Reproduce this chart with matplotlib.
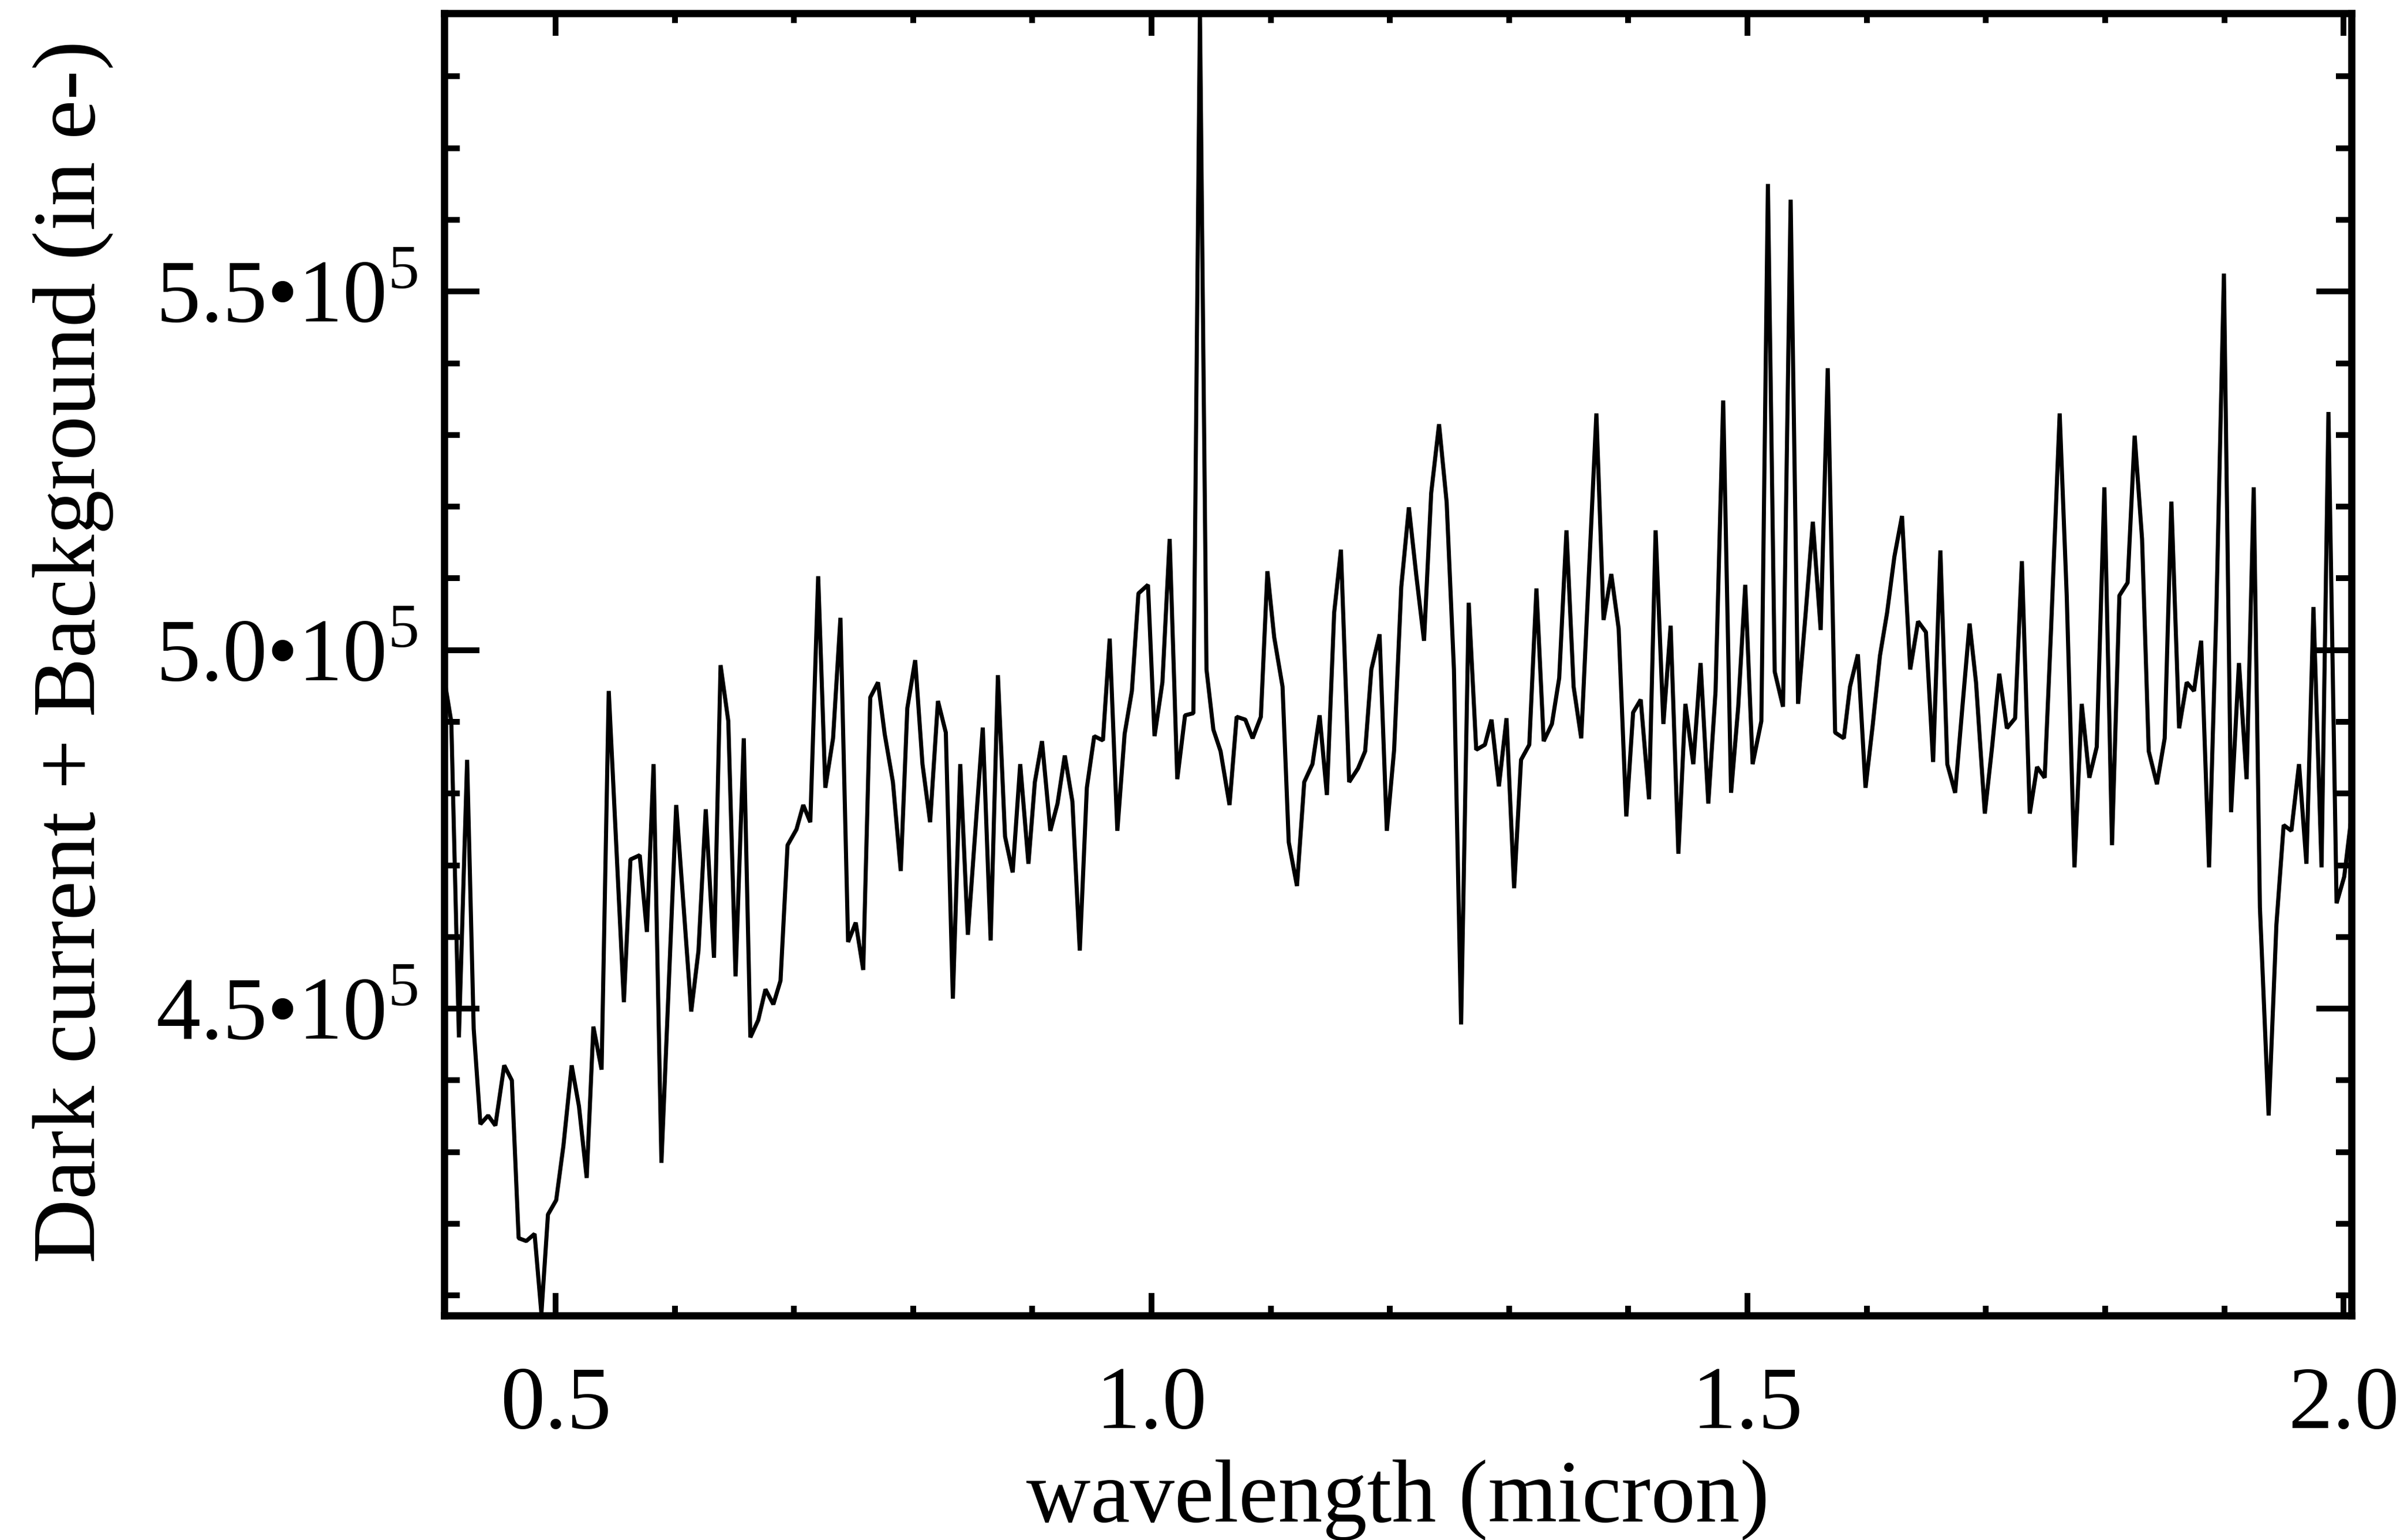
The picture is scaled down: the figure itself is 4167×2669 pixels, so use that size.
import numpy as np
import matplotlib
matplotlib.use('Agg')
import matplotlib.pyplot as plt
from matplotlib.ticker import MultipleLocator, FuncFormatter

plt.rcParams['font.family'] = 'serif'
plt.rcParams['font.serif'] = ['Liberation Serif', 'DejaVu Serif']
plt.rcParams['mathtext.fontset'] = 'custom'
plt.rcParams['mathtext.rm'] = 'Liberation Serif'

# wavelength in micron
wavelength = [
    0.4066, 0.4125, 0.4189, 0.4258, 0.4313, 0.4369, 0.4434, 0.4495, 0.4569, 0.4633,
    0.4690, 0.4754, 0.4824, 0.4881, 0.4936, 0.5005, 0.5066, 0.5135, 0.5196, 0.5261,
    0.5317, 0.5386, 0.5446, 0.5573, 0.5628, 0.5706, 0.5766, 0.5822, 0.5888, 0.6012,
    0.6138, 0.6199, 0.6260, 0.6329, 0.6384,
    0.6449, 0.6510, 0.6579, 0.6634, 0.6700, 0.6761, 0.6827, 0.6887, 0.6946, 0.7021,
    0.7078, 0.7137, 0.7203, 0.7263, 0.7328, 0.7390, 0.7454, 0.7518, 0.7581, 0.7640,
    0.7705, 0.7761, 0.7830, 0.7896, 0.7951, 0.8017, 0.8078, 0.8142, 0.8208, 0.8274,
    0.8333, 0.8395, 0.8459, 0.8584, 0.8650, 0.8711, 0.8771, 0.8835, 0.8898, 0.8967,
    0.9021, 0.9081, 0.9151, 0.9211, 0.9272, 0.9336, 0.9398, 0.9457, 0.9519, 0.9592,
    0.9649, 0.9713, 0.9774, 0.9835, 0.9890, 0.9970, 1.0025, 1.0091, 1.0152, 1.0216,
    1.0281, 1.0351, 1.0406, 1.0461, 1.0519, 1.0579, 1.0654, 1.0714, 1.0787, 1.0848,
    1.0917, 1.0972, 1.1029, 1.1099, 1.1151, 1.1220, 1.1281, 1.1350, 1.1410, 1.1471,
    1.1532, 1.1589, 1.1658,
    1.1732, 1.1792, 1.1844, 1.1913, 1.1974, 1.2035, 1.2095, 1.2159, 1.2222, 1.2286,
    1.2346, 1.2412, 1.2476, 1.2537, 1.2597, 1.2661, 1.2724, 1.2797, 1.2852, 1.2914,
    1.2978, 1.3042, 1.3100, 1.3169, 1.3229, 1.3290, 1.3359, 1.3420, 1.3481, 1.3541,
    1.3605, 1.3732, 1.3792, 1.3857, 1.3919, 1.3983, 1.4040, 1.4104, 1.4174, 1.4229,
    1.4294, 1.4355, 1.4420, 1.4479, 1.4545, 1.4606, 1.4671, 1.4732, 1.4796, 1.4862,
    1.4922, 1.4981, 1.5043, 1.5116, 1.5171, 1.5228, 1.5298, 1.5362, 1.5424, 1.5488,
    1.5548, 1.5614, 1.5673, 1.5735, 1.5808, 1.5860, 1.5926, 1.5990, 1.6050, 1.6111,
    1.6171, 1.6232, 1.6296, 1.6365, 1.6431, 1.6497, 1.6557, 1.6618, 1.6676, 1.6742,
    1.6803, 1.6863,
    1.6917, 1.6991, 1.7052, 1.7112, 1.7176, 1.7245, 1.7302, 1.7368, 1.7429, 1.7493,
    1.7545, 1.7619, 1.7678, 1.7743, 1.7804, 1.7868, 1.7930, 1.7994, 1.8058, 1.8120,
    1.8189, 1.8248, 1.8310, 1.8366, 1.8435, 1.8500, 1.8556, 1.8621, 1.8685, 1.8746,
    1.8806, 1.8872, 1.8933, 1.8997, 1.9057, 1.9123, 1.9187, 1.9247, 1.9299, 1.9372,
    1.9437, 1.9498, 1.9563, 1.9627, 1.9689, 1.9748, 1.9816, 1.9874, 1.9942, 2.0006,
    2.0068,
]

# dark current + background, in units of 1e5 e-
counts_1e5 = [
    4.960, 4.900, 4.460, 4.847, 4.472, 4.339, 4.351, 4.337, 4.421, 4.400,
    4.180, 4.176, 4.186, 4.075, 4.213, 4.233, 4.309, 4.421, 4.364, 4.264,
    4.475, 4.415, 4.943, 4.509, 4.708, 4.714, 4.607, 4.841, 4.285, 4.784,
    4.496, 4.581, 4.778, 4.571, 4.979,
    4.901, 4.545, 4.877, 4.460, 4.484, 4.527, 4.506, 4.539, 4.728, 4.750,
    4.784, 4.760, 5.103, 4.808, 4.877, 5.045, 4.593, 4.620, 4.554, 4.934,
    4.955, 4.883, 4.816, 4.692, 4.919, 4.986, 4.841, 4.760, 4.929, 4.885,
    4.514, 4.841, 4.603, 4.892, 4.595, 4.965, 4.740, 4.690, 4.841, 4.702,
    4.816, 4.873, 4.748, 4.786, 4.853, 4.789, 4.581, 4.808, 4.880, 4.874,
    5.016, 4.748, 4.883, 4.943, 5.079, 5.091, 4.880, 4.955, 5.155, 4.820,
    4.909, 4.912, 5.890, 4.973, 4.889, 4.859, 4.784, 4.907, 4.903, 4.877,
    4.907, 5.110, 5.018, 4.949, 4.732, 4.671, 4.816, 4.841, 4.909, 4.798,
    5.052, 5.140, 4.816,
    4.835, 4.859, 4.973, 5.022, 4.748, 4.861, 5.088, 5.199, 5.103, 5.013,
    5.219, 5.315, 5.206, 4.973, 4.478, 5.066, 4.861, 4.868, 4.903, 4.810,
    4.905, 4.668, 4.847, 4.868, 5.086, 4.873, 4.897, 4.961, 5.167, 4.949,
    4.877, 5.330, 5.042, 5.106, 5.030, 4.768, 4.913, 4.931, 4.792, 5.167,
    4.897, 5.034, 4.716, 4.925, 4.841, 4.982, 4.786, 4.943, 5.348, 4.801,
    4.921, 5.091, 4.841, 4.901, 5.650, 4.970, 4.921, 5.628, 4.925, 5.052,
    5.179, 5.028, 5.393, 4.885, 4.877, 4.949, 4.994, 4.808, 4.895, 4.992,
    5.052, 5.130, 5.187, 4.973, 5.040, 5.025, 4.844, 5.139, 4.841, 4.801,
    4.921, 5.037,
    4.955, 4.772, 4.865, 4.967, 4.891, 4.905, 5.124, 4.772, 4.837, 4.822,
    5.022, 5.330, 5.076, 4.697, 4.925, 4.822, 4.865, 5.227, 4.728, 5.076,
    5.094, 5.299, 5.155, 4.859, 4.813, 4.877, 5.207, 4.891, 4.955, 4.943,
    5.013, 4.697, 5.052, 5.525, 4.774, 4.982, 4.820, 5.227, 4.641, 4.351,
    4.617, 4.756, 4.748, 4.841, 4.702, 5.060, 4.697, 5.332, 4.647, 4.684,
    4.770,
]

x_range = [0.4066, 2.0068]
y_range = [4.072e5, 5.888e5]

x = np.array(wavelength)
y = np.array(counts_1e5) * 1e5

fig = plt.figure(figsize=(4167 / 300, 2669 / 300), dpi=300)
ax = fig.add_axes([0.1848, 0.1457, 0.9782 - 0.1848, 0.9914 - 0.1457])

ax.plot(x, y, color='black', linewidth=1.7, solid_joinstyle='bevel')

ax.set_xlim(x_range)
ax.set_ylim(y_range)

ax.xaxis.set_major_locator(MultipleLocator(0.5))
ax.xaxis.set_minor_locator(MultipleLocator(0.1))
ax.yaxis.set_major_locator(MultipleLocator(0.5e5))
ax.yaxis.set_minor_locator(MultipleLocator(0.1e5))
ax.xaxis.set_major_formatter(FuncFormatter(lambda v, p: '%.1f' % v))
ax.yaxis.set_major_formatter(FuncFormatter(lambda v, p: '%.1f\u202210$^5$' % (v / 1e5)))

ax.tick_params(which='both', direction='in', top=True, right=True, width=2.4, labelsize=37)
ax.tick_params(axis='x', which='major', length=9.4, pad=21)
ax.tick_params(axis='x', which='minor', length=4.1)
ax.tick_params(axis='y', which='major', length=14.6, pad=11)
ax.tick_params(axis='y', which='minor', length=6.5)

for s in ax.spines.values():
    s.set_linewidth(3.0)

ax.set_xlabel('wavelength (micron)', fontsize=37, va='baseline')
ax.xaxis.set_label_coords(0.5, -0.1582)
ax.set_ylabel('Dark current + Background (in e-)', fontsize=37, va='baseline')
ax.yaxis.set_label_coords(-0.1833, 0.51)

fig.savefig('out.png', dpi=300)
